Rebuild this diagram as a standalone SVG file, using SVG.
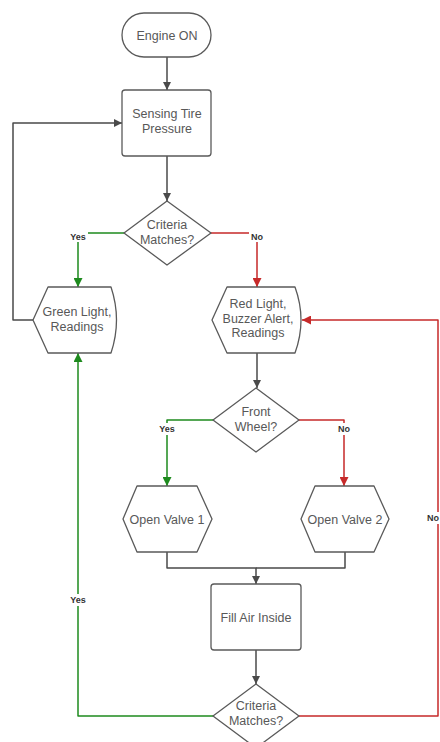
<svg xmlns="http://www.w3.org/2000/svg" width="440" height="742" viewBox="0 0 440 742">
<defs>
<style>
.n{fill:#fff;stroke:#5a5a5a;stroke-width:1.3;stroke-linejoin:round}
.t{font-family:"Liberation Sans",Arial,sans-serif;font-size:12.5px;fill:#585858;text-anchor:middle}
.l{font-family:"Liberation Sans",Arial,sans-serif;font-size:9px;font-weight:bold;fill:#333;text-anchor:middle}
.c{fill:none;stroke-width:1.5;stroke-linejoin:round}
.g{stroke:#4a4a4a}
.gr{stroke:#1e8a1e}
.r{stroke:#c62a2a}
.bg{fill:#fff}
</style>
<marker id="ag" viewBox="0 0 10 10" refX="10" refY="5" markerWidth="8" markerHeight="8" markerUnits="userSpaceOnUse" orient="auto"><path d="M0,0 L10,5 L0,10 Z" fill="#4a4a4a"/></marker>
<marker id="agr" viewBox="0 0 10 10" refX="10" refY="5" markerWidth="9" markerHeight="9" markerUnits="userSpaceOnUse" orient="auto"><path d="M0,0 L10,5 L0,10 Z" fill="#1e8a1e"/></marker>
<marker id="ar" viewBox="0 0 10 10" refX="10" refY="5" markerWidth="9" markerHeight="9" markerUnits="userSpaceOnUse" orient="auto"><path d="M0,0 L10,5 L0,10 Z" fill="#c62a2a"/></marker>
</defs>
<rect width="440" height="742" fill="#fff"/>
<g id="connectors">
<path class="c g" d="M167,57 V90" marker-end="url(#ag)"/>
<path class="c g" d="M167,156 V201" marker-end="url(#ag)"/>
<path class="c gr" d="M124,233 H78 V287" marker-end="url(#agr)"/>
<path class="c r" d="M211,233 H257 V287" marker-end="url(#ar)"/>
<path class="c g" d="M33,320 H13 V123 H122" marker-end="url(#ag)"/>
<path class="c g" d="M257,353 V388" marker-end="url(#ag)"/>
<path class="c gr" d="M213,420 H167 V486" marker-end="url(#agr)"/>
<path class="c r" d="M298,420 H344 V486" marker-end="url(#ar)"/>
<path class="c g" d="M167,552 V568 H256 V584" marker-end="url(#ag)"/>
<path class="c g" d="M345,552 V568 H256"/>
<path class="c g" d="M256,650 V684" marker-end="url(#ag)"/>
<path class="c gr" d="M213,716 H78 V353" marker-end="url(#agr)"/>
<path class="c r" d="M299,716 H438 V320 H302" marker-end="url(#ar)"/>
<rect class="bg" x="68" y="230" width="20" height="12"/>
<text class="l" x="78" y="240">Yes</text>
<rect class="bg" x="249" y="230" width="16" height="12"/>
<text class="l" x="257" y="240">No</text>
<rect class="bg" x="157" y="423" width="20" height="12"/>
<text class="l" x="167" y="432">Yes</text>
<rect class="bg" x="336" y="423" width="16" height="12"/>
<text class="l" x="344" y="432">No</text>
<rect class="bg" x="68" y="594" width="20" height="12"/>
<text class="l" x="78" y="603">Yes</text>
<rect class="bg" x="427" y="512" width="13" height="12"/>
<text class="l" x="439" y="521" style="text-anchor:end">No</text>
</g>
<g id="engine-on">
<rect class="n" x="122" y="13" width="89" height="44" rx="22"/>
<text class="t" x="167" y="39.5">Engine ON</text>
</g>
<g id="sensing">
<rect class="n" x="122" y="90" width="89" height="66" rx="3"/>
<text class="t" x="167" y="118">Sensing Tire</text>
<text class="t" x="167" y="132.5">Pressure</text>
</g>
<g id="criteria1">
<path class="n" d="M167,201 L211,233 L167,265 L124,233 Z"/>
<text class="t" x="167" y="229">Criteria</text>
<text class="t" x="167" y="243.5">Matches?</text>
</g>
<g id="green-light">
<path class="n" d="M48,287 L111,287 Q122,320 111,353 L48,353 L33,320 Z"/>
<text class="t" x="77" y="316">Green Light,</text>
<text class="t" x="77" y="330.5">Readings</text>
</g>
<g id="red-light">
<path class="n" d="M227,287 L295,287 Q307,320 295,353 L227,353 L212,320 Z"/>
<text class="t" x="258" y="308">Red Light,</text>
<text class="t" x="258" y="322.5">Buzzer Alert,</text>
<text class="t" x="258" y="337">Readings</text>
</g>
<g id="front-wheel">
<path class="n" d="M256,388 L299,420 L256,452 L213,420 Z"/>
<text class="t" x="256" y="416">Front</text>
<text class="t" x="256" y="430.5">Wheel?</text>
</g>
<g id="open-valve-1">
<path class="n" d="M137,486 L197,486 L212,519 L197,552 L137,552 L123,519 Z"/>
<text class="t" x="167" y="523.5">Open Valve 1</text>
</g>
<g id="open-valve-2">
<path class="n" d="M315,486 L374,486 L389,519 L374,552 L315,552 L301,519 Z"/>
<text class="t" x="345" y="523.5">Open Valve 2</text>
</g>
<g id="fill-air">
<rect class="n" x="211" y="584" width="90" height="66" rx="3"/>
<text class="t" x="256" y="621.5">Fill Air Inside</text>
</g>
<g id="criteria2">
<path class="n" d="M256,684 L299,716 L256,748 L213,716 Z"/>
<text class="t" x="256" y="710">Criteria</text>
<text class="t" x="256" y="724.5">Matches?</text>
</g>
</svg>
